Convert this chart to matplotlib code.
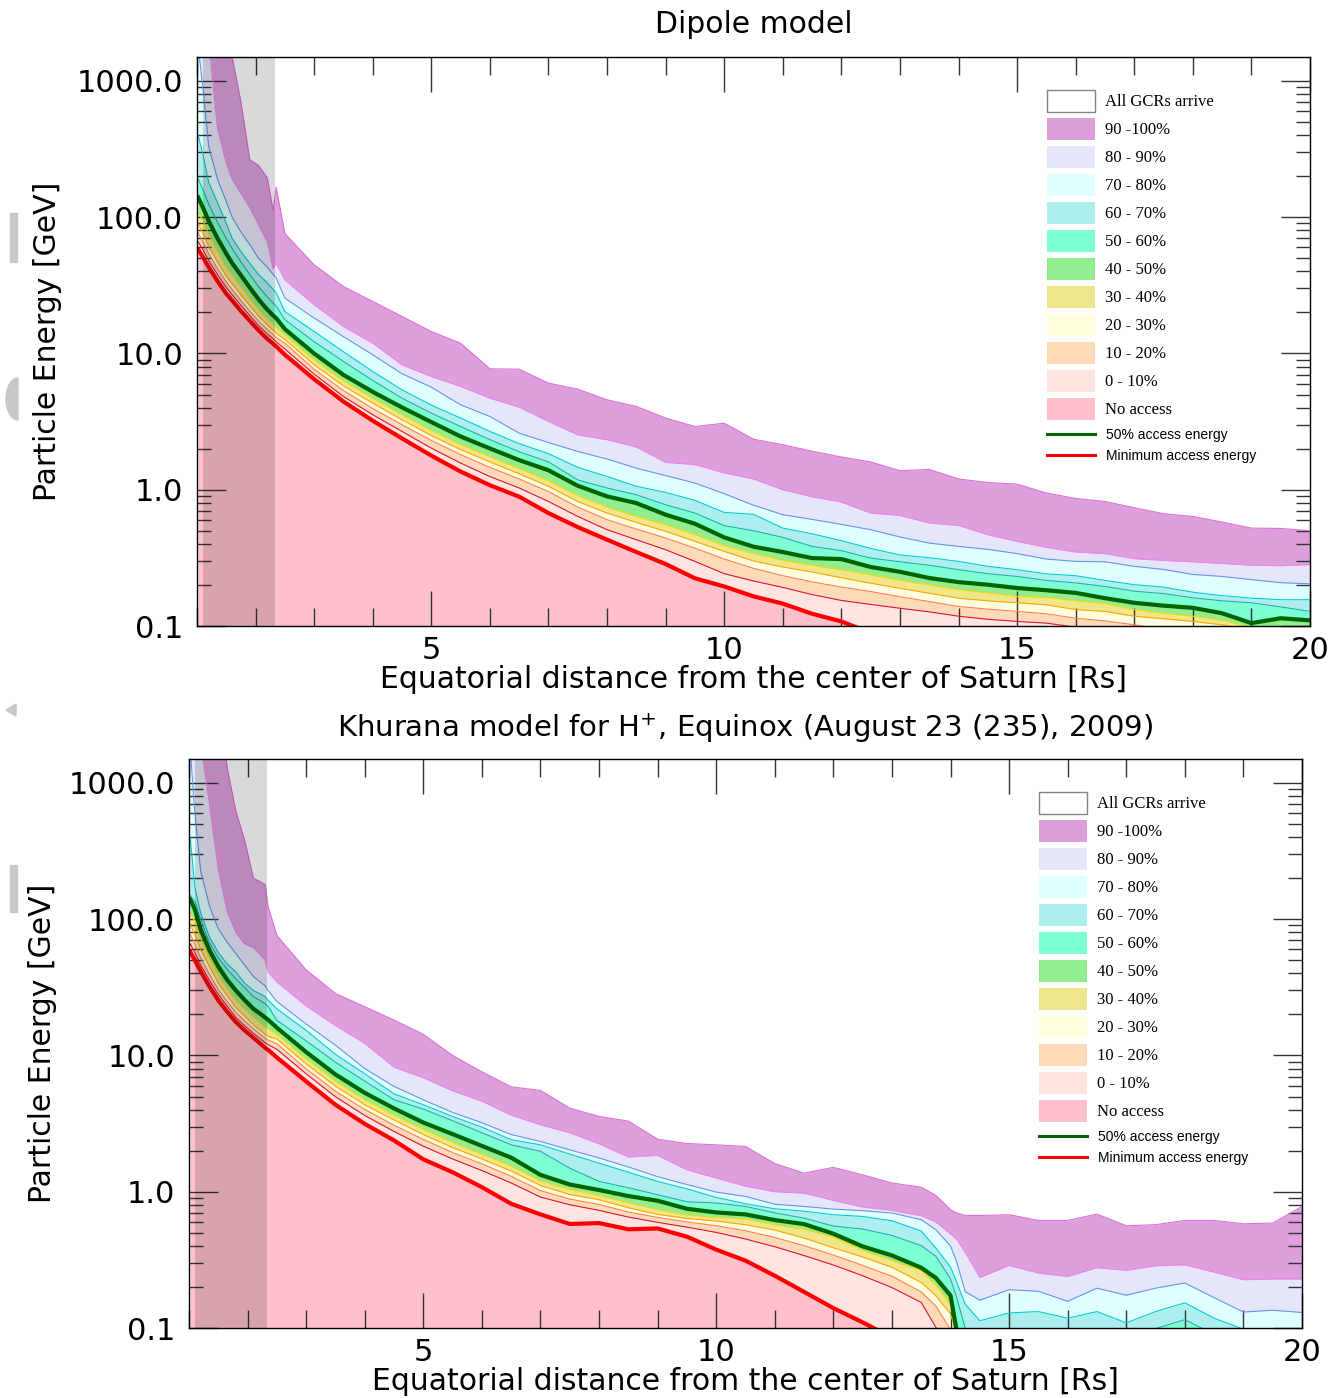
import numpy as np
import matplotlib.pyplot as plt
from matplotlib.patches import Patch, Rectangle, Polygon
from matplotlib.lines import Line2D
from matplotlib.ticker import FixedLocator, MultipleLocator, LogLocator, FuncFormatter, NullFormatter

# ==============================
# Access energies (GeV) vs distance (Rs)
# e0 = minimum access, e50 = 50% access, e100 = all GCRs arrive
# ==============================

dipole_x = [1.02, 1.1, 1.2, 1.35, 1.5, 1.6, 1.75, 1.9, 2.05, 2.2, 2.3, 2.35,
            2.5, 3.0, 3.5, 4.0, 4.5, 5.0, 5.5, 6.0, 6.5, 7.0, 7.5, 8.0, 8.5, 9.0, 9.5, 10.0,
            10.5, 11.0, 11.5, 12.0, 12.5, 13.0, 13.5, 14.0, 14.5, 15.0, 15.5, 16.0, 16.5, 17.0,
            17.5, 18.0, 18.5, 19.0, 19.5, 20.0]
dipole_e0 = [58, 51, 43, 34, 27.5, 24.5, 20.5, 17.4, 14.8, 12.8, 11.8, 11.3,
             9.8, 6.48, 4.44, 3.21, 2.38, 1.78, 1.36, 1.08, 0.889, 0.674, 0.532, 0.43, 0.349, 0.285, 0.224, 0.195,
             0.165, 0.146, 0.123, 0.108, 0.089, 0.07, 0.055, 0.045, 0.04, 0.035, 0.03, 0.025, 0.022, 0.02,
             0.018, 0.016, 0.015, 0.014, 0.013, 0.012]
dipole_e10 = [66, 58, 48, 38, 30.5, 27, 22.5, 19, 16, 13.9, 12.8, 12.2,
              10.8, 7.05, 4.84, 3.55, 2.68, 2.02, 1.57, 1.25, 1.03, 0.82, 0.637, 0.509, 0.43, 0.363, 0.298, 0.242,
              0.214, 0.192, 0.17, 0.154, 0.144, 0.135, 0.127, 0.118, 0.112, 0.108, 0.105, 0.098, 0.09, 0.085,
              0.08, 0.075, 0.07, 0.068, 0.066, 0.065]
dipole_e20 = [77, 66, 54, 42, 33.5, 29.5, 24.5, 20.5, 17.3, 15, 13.8, 13.1,
              11.9, 7.67, 5.35, 3.95, 3.0, 2.30, 1.81, 1.46, 1.20, 0.97, 0.746, 0.603, 0.515, 0.442, 0.373, 0.31,
              0.265, 0.234, 0.211, 0.193, 0.179, 0.164, 0.151, 0.139, 0.133, 0.128, 0.123, 0.114, 0.109, 0.102,
              0.095, 0.09, 0.088, 0.085, 0.085, 0.085]
dipole_e30 = [90, 76, 61, 47, 37, 32.5, 27, 22.5, 18.8, 16.2, 14.8, 14.1,
              12.7, 8.26, 5.79, 4.32, 3.26, 2.50, 1.97, 1.60, 1.31, 1.06, 0.82, 0.674, 0.576, 0.495, 0.418, 0.353,
              0.30, 0.271, 0.249, 0.226, 0.206, 0.189, 0.174, 0.16, 0.153, 0.148, 0.143, 0.132, 0.128, 0.118,
              0.113, 0.108, 0.102, 0.092, 0.092, 0.09]
dipole_e40 = [108, 95, 75, 56, 43, 37.5, 31, 25.5, 21, 18, 16.4, 15.6,
              13.7, 9.0, 6.3, 4.68, 3.55, 2.72, 2.14, 1.75, 1.43, 1.16, 0.904, 0.746, 0.637, 0.554, 0.468, 0.388,
              0.341, 0.303, 0.279, 0.258, 0.237, 0.217, 0.2, 0.185, 0.175, 0.165, 0.162, 0.153, 0.146, 0.132,
              0.124, 0.118, 0.11, 0.098, 0.098, 0.097]
dipole_e50 = [140, 118, 94, 70, 54, 46, 37.5, 30.5, 25, 21, 19, 18.2,
              15.1, 10.0, 6.97, 5.23, 4.02, 3.14, 2.46, 2.01, 1.65, 1.39, 1.07, 0.894, 0.798, 0.656, 0.563, 0.447,
              0.382, 0.349, 0.315, 0.31, 0.271, 0.25, 0.225, 0.21, 0.201, 0.19, 0.183, 0.175, 0.16, 0.148,
              0.141, 0.136, 0.124, 0.105, 0.114, 0.11]
dipole_e60 = [190, 160, 125, 92, 70, 59, 47, 38, 31, 26, 23.5, 22.3,
              17.7, 12.2, 8.74, 6.34, 4.70, 3.65, 2.91, 2.33, 1.90, 1.60, 1.18, 1.03, 0.919, 0.776, 0.674, 0.545,
              0.50, 0.447, 0.384, 0.357, 0.315, 0.296, 0.279, 0.259, 0.242, 0.231, 0.216, 0.207, 0.195, 0.18,
              0.173, 0.161, 0.153, 0.148, 0.138, 0.128]
dipole_e70 = [400, 290, 180, 128, 90, 70, 56, 46, 38, 33, 29.5, 28,
              20.3, 14.5, 10.3, 7.38, 5.41, 4.18, 3.36, 2.68, 2.18, 1.84, 1.46, 1.25, 1.06, 0.956, 0.835, 0.682,
              0.66, 0.523, 0.475, 0.423, 0.371, 0.332, 0.317, 0.298, 0.274, 0.259, 0.241, 0.234, 0.216, 0.201,
              0.193, 0.177, 0.167, 0.16, 0.156, 0.156]
dipole_e80 = [1800, 900, 330, 190, 130, 100, 78, 63, 50, 43, 38, 36,
              25.5, 18.2, 13.3, 9.78, 7.1, 5.66, 4.20, 3.45, 2.60, 2.22, 1.91, 1.68, 1.44, 1.27, 1.12, 0.935,
              0.77, 0.656, 0.606, 0.557, 0.509, 0.45, 0.406, 0.384, 0.365, 0.34, 0.31, 0.298, 0.296, 0.274,
              0.26, 0.239, 0.231, 0.219, 0.208, 0.204]
dipole_e90 = [4000, 4000, 2000, 450, 250, 190, 150, 118, 88, 66, 42, 46,
              34.7, 22.8, 15.8, 11.9, 8.26, 6.78, 5.73, 4.70, 4.04, 3.17, 2.53, 2.33, 2.06, 1.59, 1.53, 1.33,
              1.20, 1.0, 0.889, 0.812, 0.674, 0.648, 0.57, 0.547, 0.468, 0.418, 0.378, 0.349, 0.34, 0.312,
              0.303, 0.296, 0.288, 0.279, 0.277, 0.282]
dipole_e100 = [6000, 6000, 6000, 6000, 5000, 1500, 700, 265, 240, 195, 111, 166,
               76, 44.7, 31.0, 24.1, 18.7, 14.5, 11.9, 7.72, 7.67, 6.06, 5.47, 4.57, 4.09, 3.36, 2.91, 3.08,
               2.35, 2.14, 1.92, 1.74, 1.60, 1.38, 1.41, 1.20, 1.13, 1.10, 0.946, 0.863, 0.82, 0.738,
               0.667, 0.637, 0.579, 0.523, 0.52, 0.50]

khurana_x = [1.02, 1.1, 1.2, 1.35, 1.5, 1.65, 1.8, 1.95, 2.1, 2.2, 2.3, 2.35,
             2.5, 3.0, 3.5, 4.0, 4.5, 5.0, 5.5, 6.0, 6.5, 7.0, 7.5, 8.0, 8.5, 9.0, 9.5, 10.0,
             10.5, 11.0, 11.5, 12.0, 12.5, 13.0, 13.5, 13.75, 14.0, 14.1, 14.25, 14.5,
             15.0, 15.5, 16.0, 16.5, 17.0, 17.5, 18.0, 18.5, 19.0, 19.5, 20.0]
khurana_e0 = [58, 50, 41.5, 32, 25.4, 21, 17.6, 15.3, 13.5, 12.4, 11.4, 11.0,
              9.67, 6.45, 4.35, 3.15, 2.38, 1.73, 1.39, 1.08, 0.816, 0.682, 0.58, 0.589, 0.53, 0.538, 0.468, 0.376,
              0.312, 0.242, 0.184, 0.14, 0.11, 0.085, 0.07, 0.065, 0.06, 0.058, 0.055, 0.05,
              0.045, 0.045, 0.045, 0.045, 0.045, 0.045, 0.045, 0.045, 0.045, 0.045, 0.045]
khurana_e10 = [66, 57, 46, 35.5, 28, 23, 19, 16.5, 14.5, 13.4, 12.4, 12,
               11.1, 7.34, 4.98, 3.63, 2.77, 2.16, 1.74, 1.43, 1.16, 0.914, 0.803, 0.73, 0.652, 0.596, 0.55, 0.503,
               0.45, 0.395, 0.34, 0.29, 0.242, 0.198, 0.154, 0.101, 0.08, 0.075, 0.07, 0.065,
               0.06, 0.06, 0.06, 0.06, 0.06, 0.06, 0.06, 0.06, 0.06, 0.06, 0.06]
khurana_e20 = [78, 66, 52, 39.5, 30.5, 25, 20.7, 18, 15.7, 14.5, 13.4, 13,
               12.2, 7.98, 5.47, 4.02, 3.08, 2.42, 1.94, 1.60, 1.30, 1.02, 0.883, 0.807, 0.71, 0.648, 0.60, 0.563,
               0.517, 0.462, 0.402, 0.343, 0.288, 0.24, 0.184, 0.145, 0.097, 0.085, 0.075, 0.07,
               0.065, 0.065, 0.065, 0.065, 0.065, 0.065, 0.065, 0.065, 0.065, 0.065, 0.065]
khurana_e30 = [92, 77, 60, 45, 34, 27.5, 22.5, 19.5, 16.8, 15.5, 14.3, 13.8,
               13.2, 8.69, 5.96, 4.35, 3.36, 2.63, 2.11, 1.74, 1.42, 1.11, 0.955, 0.874, 0.763, 0.682, 0.637, 0.609,
               0.573, 0.523, 0.457, 0.388, 0.332, 0.279, 0.216, 0.172, 0.127, 0.09, 0.08, 0.075,
               0.07, 0.07, 0.07, 0.07, 0.07, 0.07, 0.07, 0.07, 0.07, 0.07, 0.07]
khurana_e40 = [112, 96, 72, 52, 39, 31, 25.5, 22, 19.2, 17.6, 16.3, 15.7,
               14.3, 9.45, 6.48, 4.73, 3.65, 2.87, 2.30, 1.89, 1.54, 1.20, 1.04, 0.94, 0.83, 0.738, 0.674, 0.648,
               0.631, 0.573, 0.53, 0.465, 0.371, 0.313, 0.263, 0.207, 0.15, 0.095, 0.085, 0.08,
               0.075, 0.075, 0.075, 0.075, 0.075, 0.075, 0.075, 0.075, 0.075, 0.075, 0.075]
khurana_e50 = [140, 118, 84, 59, 45, 36, 30, 25.5, 22, 20.5, 19, 18.3,
               16.0, 10.6, 7.26, 5.32, 4.09, 3.22, 2.65, 2.17, 1.78, 1.33, 1.13, 1.03, 0.93, 0.859, 0.75, 0.705,
               0.682, 0.62, 0.579, 0.492, 0.397, 0.341, 0.277, 0.233, 0.173, 0.098, 0.09, 0.085,
               0.08, 0.08, 0.08, 0.08, 0.08, 0.08, 0.08, 0.08, 0.08, 0.08, 0.08]
khurana_e60 = [150, 135, 99, 67, 52, 43, 36.5, 31.5, 27, 25.5, 24, 23,
               18.1, 12.8, 8.93, 6.48, 4.73, 4.04, 3.32, 2.71, 2.21, 1.98, 1.49, 1.19, 1.07, 0.95, 0.845, 0.826,
               0.78, 0.70, 0.64, 0.56, 0.532, 0.478, 0.402, 0.336, 0.23, 0.17, 0.10, 0.09,
               0.092, 0.09, 0.09, 0.09, 0.09, 0.099, 0.115, 0.09, 0.085, 0.085, 0.085]
khurana_e70 = [400, 171, 111, 74, 57, 47, 41, 34, 30, 28.5, 27, 25.5,
               22, 15.3, 10.2, 7.34, 5.23, 4.35, 3.57, 2.98, 2.41, 2.21, 1.89, 1.62, 1.39, 1.19, 1.05, 0.908,
               0.817, 0.75, 0.72, 0.678, 0.659, 0.612, 0.515, 0.386, 0.28, 0.22, 0.15, 0.113,
               0.129, 0.132, 0.118, 0.132, 0.109, 0.132, 0.153, 0.118, 0.098, 0.095, 0.095]
khurana_e80 = [1800, 600, 225, 125, 85, 68, 56, 46, 38, 35, 32.5, 30,
               24.9, 17, 11.9, 8.03, 5.93, 4.73, 3.82, 3.21, 2.63, 2.34, 2.03, 1.77, 1.52, 1.29, 1.13, 0.995,
               0.924, 0.81, 0.78, 0.746, 0.726, 0.698, 0.624, 0.526, 0.40, 0.31, 0.185, 0.16,
               0.191, 0.186, 0.157, 0.196, 0.174, 0.196, 0.214, 0.167, 0.131, 0.135, 0.13]
khurana_e90 = [4000, 4000, 2000, 700, 233, 115, 80, 66, 62, 56, 50, 41,
               34.7, 23.1, 16.6, 12.3, 8.21, 6.86, 5.51, 4.62, 3.65, 3.10, 2.71, 2.25, 1.80, 1.85, 1.45, 1.26,
               1.10, 1.0, 0.977, 0.864, 0.772, 0.73, 0.667, 0.60, 0.49, 0.45, 0.36, 0.235,
               0.288, 0.253, 0.239, 0.277, 0.265, 0.286, 0.291, 0.257, 0.226, 0.229, 0.229]
khurana_e100 = [6000, 6000, 6000, 6000, 6000, 1300, 620, 380, 200, 190, 180, 124,
                76, 42.5, 28.5, 22.8, 18.2, 14.3, 10.0, 7.59, 5.89, 5.54, 4.11, 3.57, 3.30, 2.43, 2.26, 2.21,
                2.15, 1.61, 1.37, 1.51, 1.33, 1.16, 1.08, 0.94, 0.738, 0.70, 0.67, 0.67,
                0.678, 0.616, 0.616, 0.686, 0.563, 0.573, 0.616, 0.616, 0.582, 0.589, 0.78]

band_labels = ["No access", "0 - 10%", "10 - 20%", "20 - 30%", "30 - 40%", "40 - 50%",
               "50 - 60%", "60 - 70%", "70 - 80%", "80 - 90%", "90 -100%"]
band_colors = ["pink", "mistyrose", "peachpuff", "lightyellow", "khaki", "lightgreen",
               "aquamarine", "paleturquoise", "lightcyan", "lavender", "plum"]
edge_colors = ["red", "crimson", "coral", "orange", "gold", "darkgreen",
               "lightseagreen", "darkturquoise", "cornflowerblue", "violet", "orchid"]
edge_widths = [3.0, 0.8, 0.8, 0.8, 0.8, 3.0, 0.8, 0.8, 0.8, 0.8, 0.8]

W, H = 1344, 1398


def px_box(x0, y0, x1, y1):
    return [x0 / W, 1 - y1 / H, (x1 - x0) / W, (y1 - y0) / H]


# ==============================
# Drawing
# ==============================

def draw_bands(ax, x, levels):
    lower = [0.01] * len(x)
    for upper, color in zip(levels, band_colors):
        ax.fill_between(x, lower, upper, color=color, lw=0, zorder=1)
        lower = upper
    for upper, color, lw in zip(levels, edge_colors, edge_widths):
        ax.plot(x, upper, color=color, lw=lw, zorder=2)
    # region inside the planet's shadow
    ax.axvspan(1.1, 2.33, color="k", alpha=0.15, lw=0, zorder=3)


def style_axes(ax, title, title_size, title_pad, ylabel_x):
    ax.set_yscale("log")
    ax.set_xlim(1, 20)
    ax.set_ylim(0.1, 1500)
    ax.xaxis.set_major_locator(FixedLocator([5, 10, 15, 20]))
    ax.xaxis.set_minor_locator(MultipleLocator(1))
    ax.yaxis.set_major_locator(LogLocator(base=10, numticks=10))
    ax.yaxis.set_minor_locator(LogLocator(base=10, subs=np.arange(2, 10), numticks=20))
    ax.yaxis.set_major_formatter(FuncFormatter(lambda v, p: f"{v:.1f}"))
    ax.yaxis.set_minor_formatter(NullFormatter())
    ax.tick_params(which="both", direction="in", top=True, right=True,
                   color="#333333", width=1.0, labelsize=22)
    ax.tick_params(axis="x", which="major", length=25, pad=7)
    ax.tick_params(axis="x", which="minor", length=13)
    ax.tick_params(axis="y", which="major", length=21, pad=10)
    ax.tick_params(axis="y", which="minor", length=10)
    for s in ax.spines.values():
        s.set_linewidth(1.0)
        s.set_zorder(6)
    ax.set_title(title, fontsize=title_size, pad=title_pad)
    ax.set_xlabel("Equatorial distance from the center of Saturn [Rs]", fontsize=21.5)
    ax.xaxis.set_label_coords(0.5, -0.068)
    ax.set_ylabel("Particle Energy [GeV]", fontsize=21.5)
    ax.yaxis.set_label_coords(ylabel_x, 0.5)


def add_legends(ax):
    patches = [Patch(facecolor="white", edgecolor="#8c7f8c", lw=1.0, label="All GCRs arrive")]
    for lab, col in zip(band_labels[::-1], band_colors[::-1]):
        patches.append(Patch(facecolor=col, edgecolor="none", label=lab))
    leg1 = ax.legend(handles=patches, loc="upper left", bbox_to_anchor=(0.7637, 0.942),
                     frameon=False, borderpad=0, borderaxespad=0,
                     handlelength=2.88, handleheight=1.654,
                     labelspacing=0.36, handletextpad=0.6,
                     prop={"family": "Liberation Serif", "size": 12})
    leg1.set_zorder(7)
    ax.add_artist(leg1)
    lines = [Line2D([], [], color="darkgreen", lw=2.2), Line2D([], [], color="red", lw=2.2)]
    leg2 = ax.legend(handles=lines, labels=["50% access energy", "Minimum access energy"],
                     loc="upper left", bbox_to_anchor=(0.7637, 0.348),
                     frameon=False, borderpad=0, borderaxespad=0,
                     handlelength=3.45, handleheight=0.7,
                     labelspacing=0.52, handletextpad=0.8,
                     prop={"family": "Liberation Sans", "size": 10})
    leg2.set_zorder(7)


fig = plt.figure(figsize=(W / 100, H / 100), dpi=100)

ax1 = fig.add_axes(px_box(197, 57, 1310, 626))
draw_bands(ax1, dipole_x, [dipole_e0, dipole_e10, dipole_e20, dipole_e30, dipole_e40, dipole_e50,
                          dipole_e60, dipole_e70, dipole_e80, dipole_e90, dipole_e100])
style_axes(ax1, "Dipole model", 21.5, 17, -0.121)
add_legends(ax1)

ax2 = fig.add_axes(px_box(189, 759, 1302, 1328))
draw_bands(ax2, khurana_x, [khurana_e0, khurana_e10, khurana_e20, khurana_e30, khurana_e40, khurana_e50,
                           khurana_e60, khurana_e70, khurana_e80, khurana_e90, khurana_e100])
style_axes(ax2, r"Khurana model for H$^{+}$, Equinox (August 23 (235), 2009)", 21, 16, -0.119)
add_legends(ax2)

# faint marks along the left margin
grey = "#c8c8c8"
fig.patches.append(Rectangle((10 / W, 1 - 262 / H), 7 / W, 49 / H, transform=fig.transFigure, color=grey))
fig.patches.append(Rectangle((10 / W, 1 - 912 / H), 7 / W, 47 / H, transform=fig.transFigure, color=grey))
t = np.linspace(np.pi / 2, 3 * np.pi / 2, 30)
half_disk = np.column_stack([(18 + 12 * np.cos(t)) / W, 1 - (399 - 21 * np.sin(t)) / H])
fig.patches.append(Polygon(half_disk, closed=True, transform=fig.transFigure, color=grey))
fig.patches.append(Polygon([(6 / W, 1 - 710 / H), (16 / W, 1 - 704 / H), (16 / W, 1 - 716 / H)],
                           closed=True, transform=fig.transFigure, color=grey))

fig.savefig("out.png", dpi=100)
